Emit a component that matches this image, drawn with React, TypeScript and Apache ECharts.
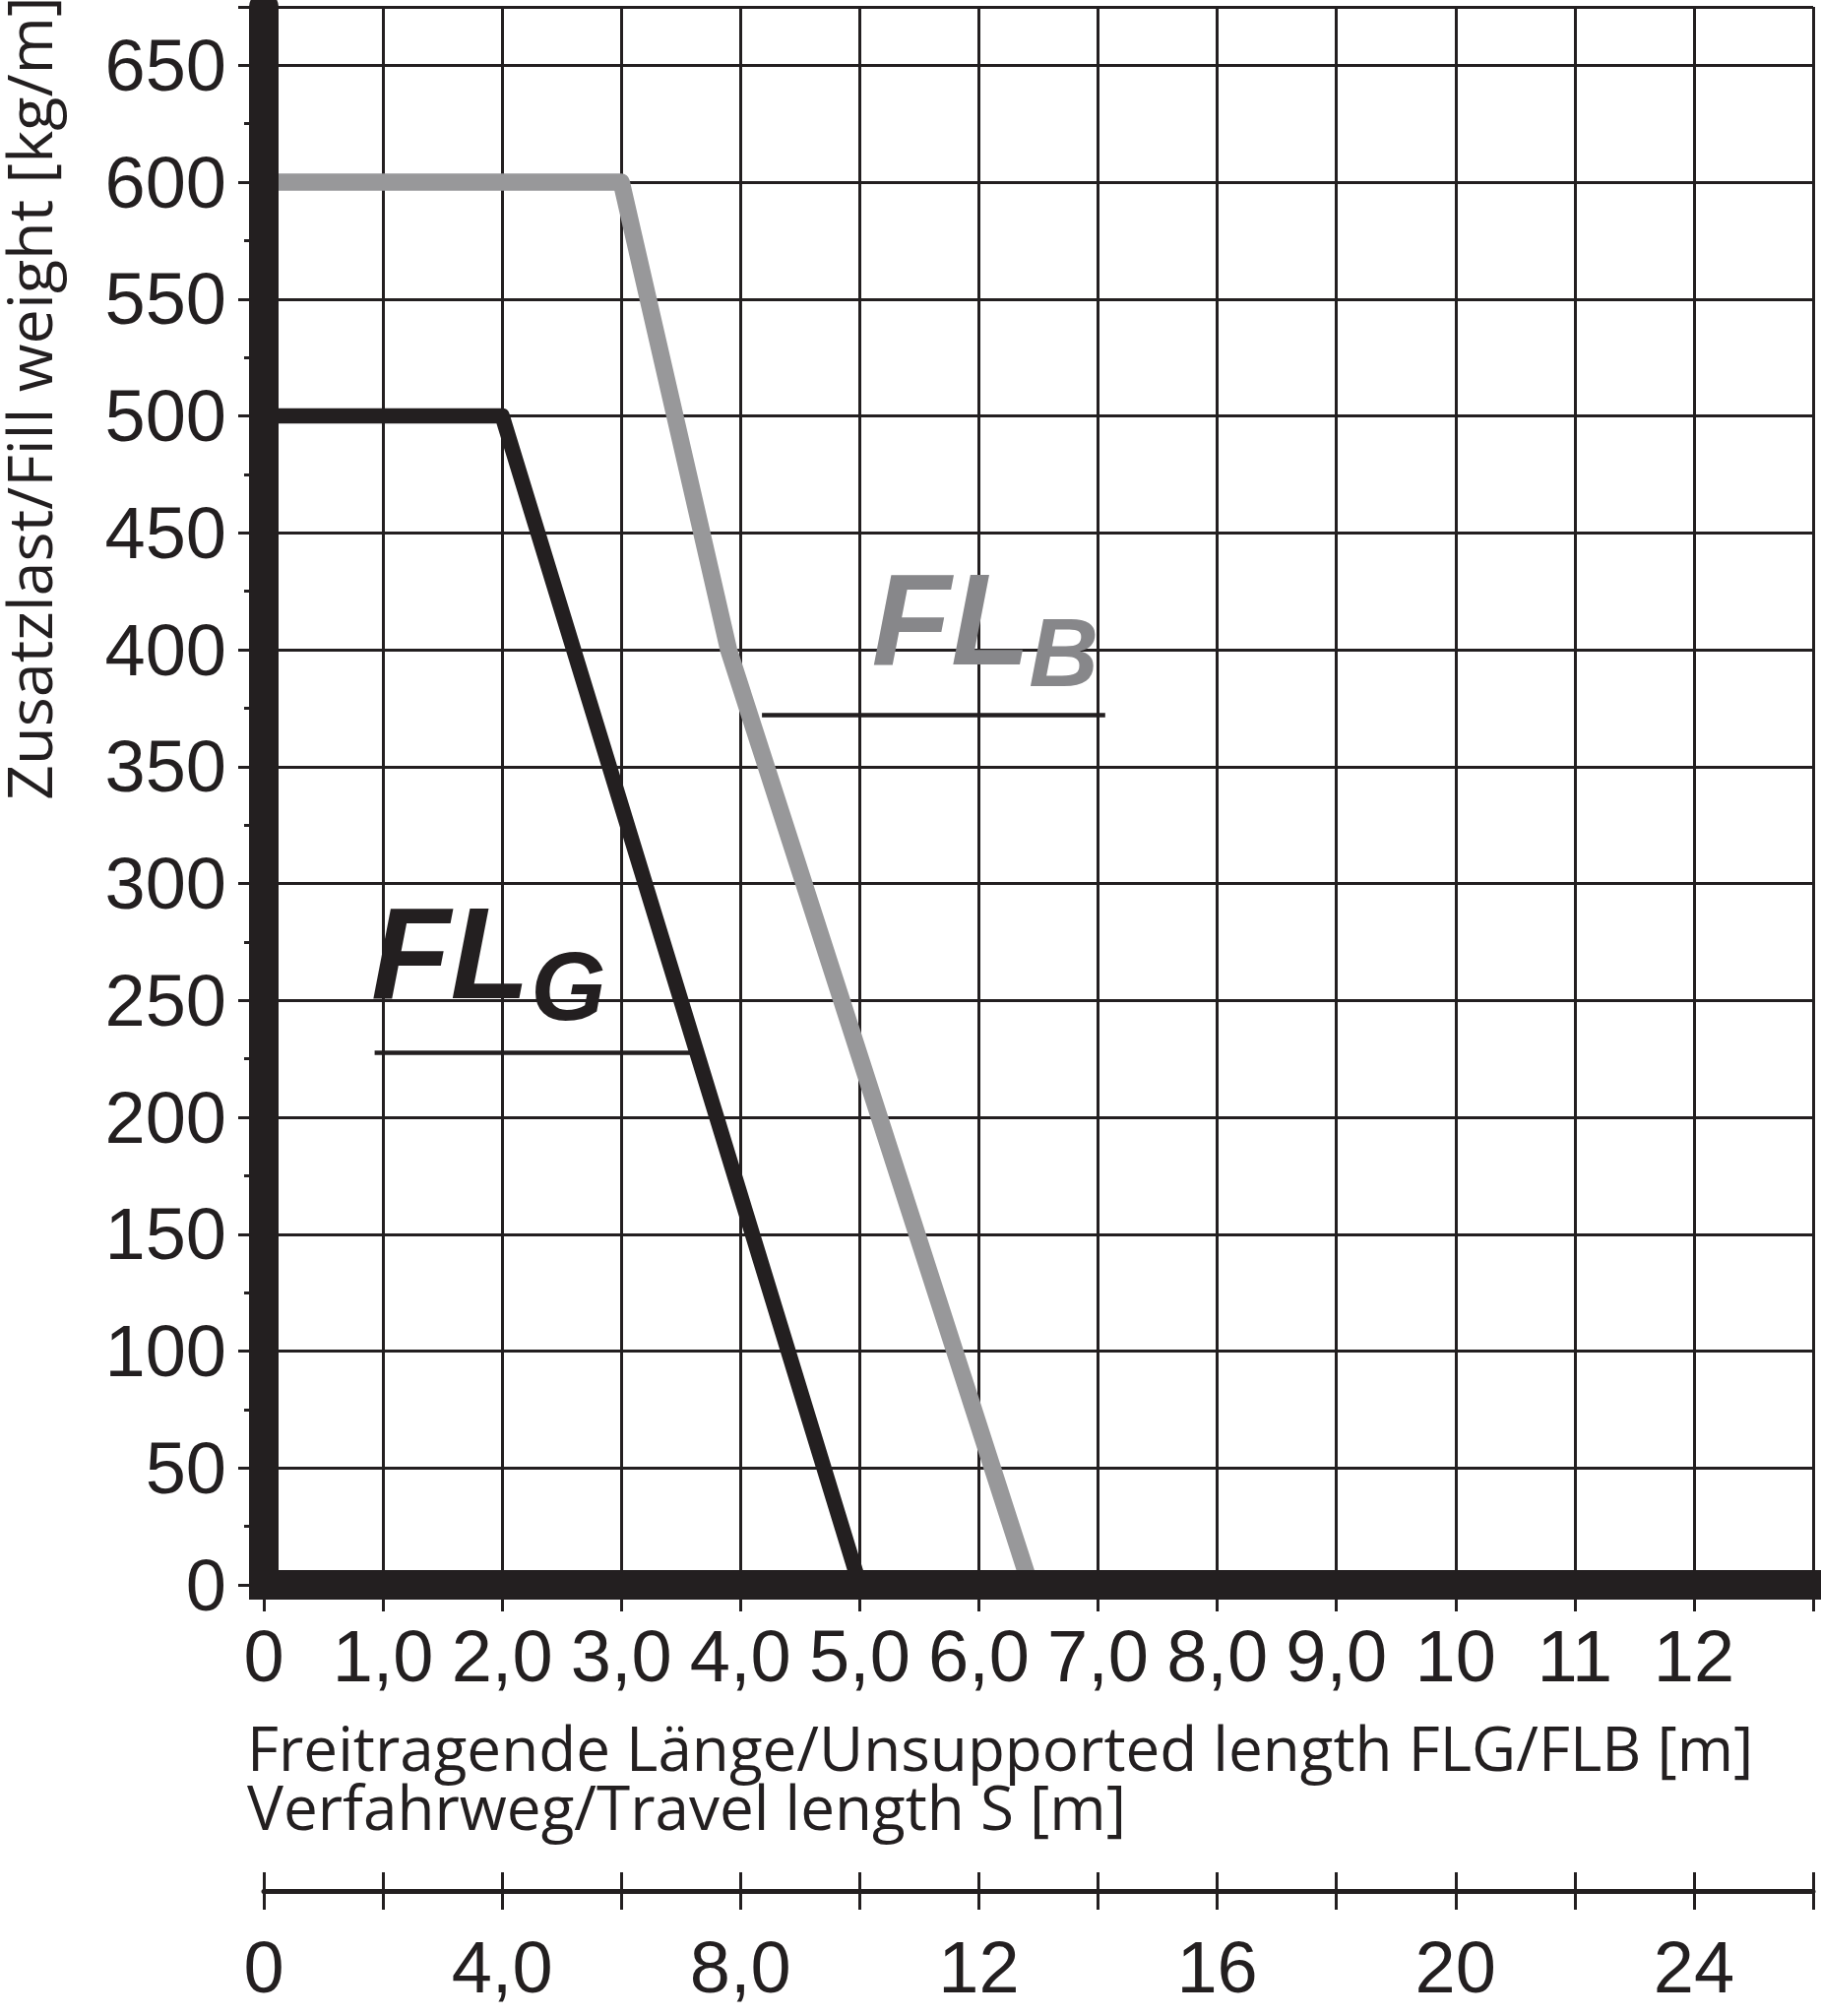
import { useEffect, useRef } from "react";
import * as echarts from "echarts";

// Freitragende Länge [m] -> Zusatzlast [kg/m]
const FLG_X = [0, 2.0, 5.0];
const FLG_Y = [500, 500, 0];
const FLB_X = [0, 3.0, 3.9, 6.43];
const FLB_Y = [600, 600, 400, 0];

const X_TICK_LABELS = ["0", "1,0", "2,0", "3,0", "4,0", "5,0", "6,0", "7,0", "8,0", "9,0", "10", "11", "12", ""];
const S_TICK_LABELS = ["0", "", "4,0", "", "8,0", "", "12", "", "16", "", "20", "", "24", ""];

// annotation anchors (data units: x in m, y in kg/m), left/baseline
const FLG_TEXT_AT = [0.9, 250];
const FLG_SUB_AT = [2.24, 241];
const FLG_RULE = [[0.93, 227.5], [3.6, 227.5]];
const FLB_TEXT_AT = [5.1, 393];
const FLB_SUB_AT = [6.42, 384];
const FLB_RULE = [[4.18, 372], [7.06, 372]];

const INK = "#231f20";
const GRAY = "#98989a";
const GRAY_TEXT = "#87878a";
const FONT_TICKS = "'Liberation Sans', Arial, sans-serif";
const FONT_TITLE = "'Open Sans', 'Noto Sans', sans-serif";
const FONT_FL = "'Liberation Sans', Arial, sans-serif";
const TICK_SIZE = 74;

const tickStyle = { color: INK, width: 3 };

export default function App() {
  const ref = useRef<HTMLDivElement>(null);

  useEffect(() => {
    if (!ref.current) return;
    const chart = echarts.init(ref.current, null, { renderer: "svg" });

    chart.setOption({
      animation: false,
      grid: { left: 268, right: 8, top: 7, bottom: 438, containLabel: false },
      xAxis: [
        {
          type: "value", min: 0, max: 13, interval: 1, position: "bottom",
          axisLine: { show: false, onZero: false },
          axisTick: { show: true, length: 27, lineStyle: tickStyle },
          axisLabel: {
            margin: 35, fontSize: TICK_SIZE, fontFamily: FONT_TICKS, color: INK,
            formatter: (v: number) => X_TICK_LABELS[Math.round(v)] ?? "",
          },
          splitLine: { show: true, lineStyle: tickStyle },
        },
        {
          type: "value", min: 0, max: 13, interval: 1, position: "bottom", z: 5,
          axisLine: { show: true, onZero: false, lineStyle: { color: INK, width: 30, cap: "square" } },
          axisTick: { show: false }, axisLabel: { show: false }, splitLine: { show: false },
        },
        {
          type: "value", min: 0, max: 26, interval: 2, position: "bottom", offset: 311,
          axisLine: { show: true, onZero: false, lineStyle: { color: INK, width: 5 } },
          axisTick: { show: true, length: 19, lineStyle: tickStyle },
          axisLabel: {
            margin: 40, fontSize: TICK_SIZE, fontFamily: FONT_TICKS, color: INK,
            formatter: (v: number) => S_TICK_LABELS[Math.round(v / 2)] ?? "",
          },
          splitLine: { show: false },
        },
        {
          type: "value", min: 0, max: 26, interval: 2, position: "bottom", offset: 311,
          axisLine: { show: false, onZero: false },
          axisTick: { show: true, inside: true, length: 19, lineStyle: tickStyle },
          axisLabel: { show: false }, splitLine: { show: false },
        },
      ],
      yAxis: [
        {
          type: "value", min: 0, max: 675, interval: 50, position: "left",
          axisLine: { show: false, onZero: false },
          axisTick: { show: true, length: 26, lineStyle: tickStyle },
          axisLabel: {
            margin: 38, fontSize: TICK_SIZE, fontFamily: FONT_TICKS, color: INK,
            formatter: (v: number) => (v % 50 === 0 ? String(v) : ""),
          },
          splitLine: { show: true, lineStyle: tickStyle },
        },
        {
          type: "value", min: 0, max: 675, interval: 25, position: "left",
          axisLine: { show: false, onZero: false },
          axisTick: { show: true, length: 20, lineStyle: tickStyle },
          axisLabel: { show: false }, splitLine: { show: false },
        },
        {
          type: "value", min: 0, max: 675, interval: 50, position: "left", z: 5,
          axisLine: { show: true, onZero: false, lineStyle: { color: INK, width: 30 } },
          axisTick: { show: false }, axisLabel: { show: false }, splitLine: { show: false },
        },
      ],
      series: [
        {
          name: "FLB", type: "line", xAxisIndex: 0, yAxisIndex: 0, z: 3,
          data: FLB_X.map((x, i) => [x, FLB_Y[i]]),
          symbol: "none", silent: true,
          lineStyle: { color: GRAY, width: 17.5, join: "round" },
          markLine: {
            silent: true, symbol: ["none", "none"], label: { show: false },
            lineStyle: { color: INK, width: 4.5, type: "solid" },
            data: [[{ coord: FLB_RULE[0] }, { coord: FLB_RULE[1] }]],
          },
        },
        {
          name: "FLG", type: "line", xAxisIndex: 0, yAxisIndex: 0, z: 3,
          data: FLG_X.map((x, i) => [x, FLG_Y[i]]),
          symbol: "none", silent: true,
          lineStyle: { color: INK, width: 15.5, join: "round" },
          markLine: {
            silent: true, symbol: ["none", "none"], label: { show: false },
            lineStyle: { color: INK, width: 4.5, type: "solid" },
            data: [[{ coord: FLG_RULE[0] }, { coord: FLG_RULE[1] }]],
          },
        },
      ],
    });

    const px = (p: number[]) => chart.convertToPixel({ xAxisIndex: 0, yAxisIndex: 0 }, p) as number[];
    const label = (p: number[], text: string, size: number, fill: string) => {
      const [x, y] = px(p);
      return {
        type: "text", x, y: y - size * 0.36, z: 10,
        style: {
          text, fill, fontSize: size, fontFamily: FONT_FL, fontWeight: "bold", fontStyle: "italic",
          textAlign: "left", textVerticalAlign: "middle",
        },
      };
    };

    chart.setOption({
      graphic: [
        label(FLG_TEXT_AT, "FL", 132, INK),
        label(FLG_SUB_AT, "G", 98, INK),
        label(FLB_TEXT_AT, "FL", 132, GRAY_TEXT),
        label(FLB_SUB_AT, "B", 98, GRAY_TEXT),
        {
          type: "text", x: 28, y: 813, rotation: Math.PI / 2,
          style: {
            text: "Zusatzlast/Fill weight [kg/m]", fill: INK, fontSize: 63, fontFamily: FONT_TITLE,
            textAlign: "left", textVerticalAlign: "middle",
          },
        },
        {
          type: "text", x: 251, y: 1745,
          style: {
            text: "Freitragende Länge/Unsupported length FLG/FLB [m]\nVerfahrweg/Travel length S [m]",
            fill: INK, fontSize: 62, lineHeight: 60,
            fontFamily: FONT_TITLE, textAlign: "left", textVerticalAlign: "top",
          },
        },
      ],
    });

    return () => chart.dispose();
  }, []);

  return (
    <div
      ref={ref}
      style={{ position: "absolute", left: 0, top: 0, width: 1850, height: 2048, background: "#fff" }}
    />
  );
}
